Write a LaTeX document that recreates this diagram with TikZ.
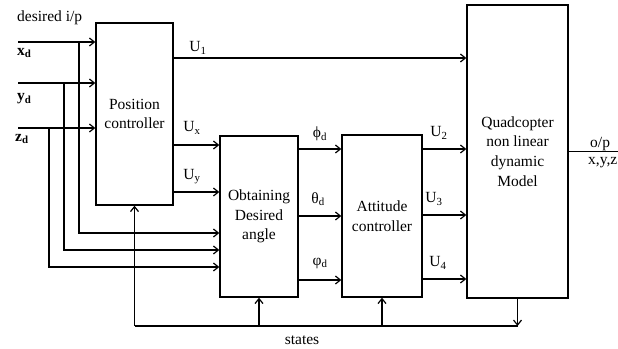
\documentclass[tikz,border=0pt]{standalone}
\usepackage{fontspec}
\setmainfont{Liberation Serif}
\usetikzlibrary{arrows.meta,calc}
\begin{document}
\begin{tikzpicture}[x=1pt,y=-1pt,
  arr/.style={line width=1.3pt,-{Straight Barb[length=5pt,width=8pt,line width=1.2pt]}},
  ln/.style={line width=1.3pt},
  blk/.style={draw,line width=1.3pt,align=center,inner sep=0pt},
  lbl/.style={inner sep=0pt},
  font=\fontsize{15.5}{19.7}\selectfont]
\useasboundingbox (0,0) rectangle (618,348);
% blocks
\node[blk,minimum width=77pt,minimum height=182pt] (pos) at (134.5,114) {Position\\controller};
\node[blk,minimum width=78pt,minimum height=161pt] (obt) at (259,216.5) {Obtaining\\Desired\\angle};
\node[blk,minimum width=80pt,minimum height=162pt] (att) at (382,216) {Attitude\\controller};
\node[blk,minimum width=101pt,minimum height=293pt] (quad) at (517.5,151.5) {Quadcopter\\non linear\\dynamic\\Model};
% inputs
\coordinate (xd) at (18,42);
\coordinate (yd) at (18,83);
\coordinate (zd) at (18,128);
\coordinate (bx) at (79,42);
\coordinate (by) at (64,83);
\coordinate (bz) at (49,128);
\node[lbl,anchor=west] (dip) at (17,18) {desired i/p};
\node[lbl,anchor=west] (lxd) at (17,53) {\textbf{x\textsubscript{d}}};
\node[lbl,anchor=west] (lyd) at (17,99) {\textbf{y\textsubscript{d}}};
\node[lbl,anchor=west] (lzd) at (15,139) {\textbf{z\textsubscript{d}}};
\draw[arr] (xd) -- (pos.west |- xd);
\draw[arr] (yd) -- (pos.west |- yd);
\draw[arr] (zd) -- (pos.west |- zd);
\draw[arr] (bx) |- (obt.west |- 0,233);
\draw[arr] (by) |- (obt.west |- 0,250);
\draw[arr] (bz) |- (obt.west |- 0,267);
% position controller outputs
\draw[arr] (pos.east |- 0,58) -- (quad.west |- 0,58);
\draw[arr] (pos.east |- 0,145) -- (obt.west |- 0,145);
\draw[arr] (pos.east |- 0,192) -- (obt.west |- 0,192);
\node[lbl] (u1) at (198,48) {U\textsubscript{1}};
\node[lbl] (ux) at (192,128) {U\textsubscript{x}};
\node[lbl] (uy) at (192,177) {U\textsubscript{y}};
% angles
\draw[arr] (obt.east |- 0,149) -- (att.west |- 0,149);
\draw[arr] (obt.east |- 0,216) -- (att.west |- 0,216);
\draw[arr] (obt.east |- 0,280) -- (att.west |- 0,280);
\node[lbl] (phd) at (320,134) {ϕ\textsubscript{d}};
\node[lbl] (thd) at (318,199) {θ\textsubscript{d}};
\node[lbl] (vpd) at (320,263) {φ\textsubscript{d}};
% attitude outputs
\draw[arr] (att.east |- 0,149) -- (quad.west |- 0,149);
\draw[arr] (att.east |- 0,215) -- (quad.west |- 0,215);
\draw[arr] (att.east |- 0,279) -- (quad.west |- 0,279);
\node[lbl] (u2) at (439,133) {U\textsubscript{2}};
\node[lbl] (u3) at (434,199) {U\textsubscript{3}};
\node[lbl] (u4) at (438,263) {U\textsubscript{4}};
% output
\coordinate (out) at (618,152);
\draw[ln] (quad.east) -- (quad.east -| out);
\node[lbl,anchor=west] (op) at (590,144) {o/p};
\node[lbl,anchor=east] (xyz) at (617.5,163) {x,y,z};
% feedback
\coordinate (fq) at (quad.south |- 0,326);
\coordinate (fp) at (pos.south |- 0,326);
\draw[arr] (quad.south) -- (fq);
\draw[ln] (fq) -- (fp);
\draw[arr] (fp) -- (pos.south);
\draw[arr] (obt.south |- fq) -- (obt.south);
\draw[arr] (att.south |- fq) -- (att.south);
\node[lbl] (st) at (302,340) {states};
\end{tikzpicture}
\end{document}
